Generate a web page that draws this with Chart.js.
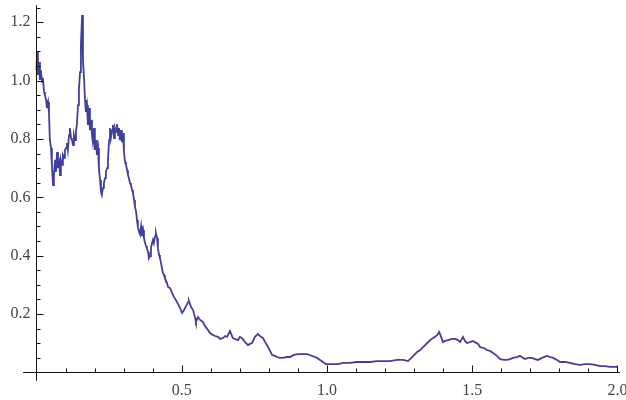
<!DOCTYPE html>
<html>
<head>
<meta charset="utf-8">
<script src="https://cdn.jsdelivr.net/npm/chart.js@4"></script>
<style>
  html, body { margin: 0; padding: 0; background: #fff; }
  #wrap { width: 626px; height: 400px; }
</style>
</head>
<body>
<div id="wrap"><canvas id="walk"></canvas></div>
<script>
// values
const xs = [
  0, 0.002, 0.005, 0.009, 0.012, 0.015, 0.019, 0.022, 0.026, 0.029,
  0.033, 0.036, 0.040, 0.043, 0.046, 0.050, 0.053, 0.057, 0.060, 0.064,
  0.067, 0.071, 0.074, 0.077, 0.081, 0.084, 0.088, 0.091, 0.095, 0.098,
  0.102, 0.105, 0.108, 0.112, 0.115, 0.119, 0.122, 0.126, 0.129, 0.133,
  0.136, 0.139, 0.143, 0.146, 0.150, 0.153, 0.157, 0.160, 0.164, 0.167,
  0.170, 0.174, 0.177, 0.181, 0.184, 0.188, 0.191, 0.194, 0.198, 0.201,
  0.205, 0.208, 0.212, 0.215, 0.219, 0.222, 0.225, 0.229, 0.232, 0.236,
  0.239, 0.243, 0.246, 0.250, 0.253, 0.256, 0.260, 0.263, 0.267, 0.270,
  0.274, 0.277, 0.281, 0.284, 0.287, 0.291, 0.294, 0.298, 0.301, 0.305,
  0.308, 0.312, 0.315, 0.318, 0.322, 0.325, 0.329, 0.332, 0.336, 0.339,
  0.343, 0.346, 0.349, 0.353, 0.356, 0.360, 0.363, 0.367, 0.370, 0.373,
  0.377, 0.380, 0.384, 0.387, 0.391, 0.394, 0.397, 0.401, 0.404, 0.408,
  0.411, 0.415, 0.418, 0.422, 0.425, 0.428, 0.432, 0.435, 0.439, 0.442,
  0.449, 0.453, 0.460, 0.467, 0.473, 0.480, 0.487, 0.494, 0.501, 0.508,
  0.515, 0.522, 0.525, 0.532, 0.539, 0.546, 0.549, 0.556, 0.563, 0.573,
  0.580, 0.590, 0.597, 0.608, 0.615, 0.625, 0.632, 0.642, 0.649, 0.656,
  0.666, 0.676, 0.683, 0.694, 0.700, 0.707, 0.718, 0.728, 0.735, 0.742,
  0.752, 0.762, 0.769, 0.780, 0.787, 0.793, 0.804, 0.811, 0.821, 0.828,
  0.838, 0.848, 0.862, 0.873, 0.886, 0.900, 0.914, 0.931, 0.941, 0.948,
  0.959, 0.966, 0.976, 0.986, 0.996, 1.003, 1.021, 1.038, 1.055, 1.079,
  1.103, 1.124, 1.148, 1.172, 1.193, 1.217, 1.241, 1.262, 1.279, 1.286,
  1.293, 1.303, 1.310, 1.321, 1.328, 1.338, 1.345, 1.355, 1.365, 1.372,
  1.379, 1.386, 1.393, 1.399, 1.406, 1.417, 1.430, 1.441, 1.451, 1.458,
  1.468, 1.475, 1.482, 1.492, 1.503, 1.509, 1.520, 1.527, 1.540, 1.551,
  1.561, 1.572, 1.585, 1.596, 1.609, 1.620, 1.630, 1.640, 1.654, 1.664,
  1.675, 1.682, 1.692, 1.706, 1.716, 1.726, 1.740, 1.757, 1.768, 1.778,
  1.792, 1.802, 1.819, 1.836, 1.854, 1.871, 1.888, 1.906, 1.923, 1.940,
  1.957, 1.974, 1.991, 2.0
];
const ys = [
  1.036, 1.098, 1.019, 1.063, 1.002, 1.036, 0.995, 1.009, 0.961, 0.950,
  0.933, 0.906, 0.926, 0.892, 0.796, 0.769, 0.711, 0.642, 0.676, 0.728,
  0.687, 0.755, 0.700, 0.735, 0.676, 0.728, 0.711, 0.745, 0.735, 0.762,
  0.769, 0.786, 0.762, 0.813, 0.837, 0.803, 0.796, 0.779, 0.813, 0.796,
  0.830, 0.848, 0.916, 0.967, 1.029, 1.122, 1.224, 1.070, 1.002, 0.933,
  0.892, 0.916, 0.848, 0.906, 0.830, 0.865, 0.813, 0.789, 0.837, 0.762,
  0.796, 0.745, 0.769, 0.693, 0.659, 0.618, 0.608, 0.632, 0.649, 0.666,
  0.687, 0.700, 0.728, 0.796, 0.837, 0.803, 0.830, 0.848, 0.803, 0.837,
  0.824, 0.851, 0.813, 0.837, 0.796, 0.830, 0.789, 0.820, 0.755, 0.721,
  0.711, 0.693, 0.676, 0.666, 0.649, 0.642, 0.625, 0.615, 0.591, 0.567,
  0.550, 0.522, 0.498, 0.481, 0.474, 0.502, 0.467, 0.488, 0.461, 0.447,
  0.433, 0.426, 0.413, 0.392, 0.399, 0.426, 0.440, 0.454, 0.443, 0.467,
  0.478, 0.461, 0.426, 0.402, 0.392, 0.378, 0.358, 0.341, 0.334, 0.324,
  0.307, 0.293, 0.289, 0.272, 0.259, 0.248, 0.235, 0.221, 0.204, 0.214,
  0.228, 0.241, 0.245, 0.224, 0.214, 0.187, 0.173, 0.190, 0.180, 0.173,
  0.159, 0.146, 0.135, 0.128, 0.125, 0.122, 0.115, 0.118, 0.125, 0.122,
  0.142, 0.118, 0.115, 0.111, 0.122, 0.118, 0.104, 0.094, 0.098, 0.101,
  0.122, 0.132, 0.125, 0.118, 0.104, 0.094, 0.074, 0.060, 0.057, 0.053,
  0.050, 0.050, 0.053, 0.053, 0.060, 0.063, 0.063, 0.063, 0.060, 0.057,
  0.053, 0.050, 0.043, 0.036, 0.029, 0.029, 0.029, 0.029, 0.033, 0.033,
  0.036, 0.036, 0.036, 0.039, 0.039, 0.039, 0.043, 0.043, 0.039, 0.046,
  0.053, 0.063, 0.070, 0.077, 0.084, 0.094, 0.101, 0.111, 0.118, 0.122,
  0.128, 0.139, 0.122, 0.104, 0.108, 0.111, 0.115, 0.115, 0.111, 0.104,
  0.122, 0.108, 0.101, 0.104, 0.108, 0.104, 0.098, 0.087, 0.084, 0.077,
  0.074, 0.067, 0.057, 0.046, 0.043, 0.043, 0.046, 0.050, 0.053, 0.057,
  0.050, 0.046, 0.050, 0.050, 0.046, 0.043, 0.050, 0.057, 0.053, 0.050,
  0.043, 0.036, 0.036, 0.033, 0.029, 0.026, 0.029, 0.029, 0.026, 0.022,
  0.022, 0.019, 0.019, 0.019
];
const xMajor = [0.5, 1.0, 1.5, 2.0];
const xMinor = [0.1, 0.2, 0.3, 0.4, 0.6, 0.7, 0.8, 0.9, 1.1, 1.2, 1.3, 1.4, 1.6, 1.7, 1.8, 1.9];
const yMajor = [0.2, 0.4, 0.6, 0.8, 1.0, 1.2];
const yMinor = [0.05, 0.1, 0.15, 0.25, 0.3, 0.35, 0.45, 0.5, 0.55, 0.65, 0.7, 0.75,
                0.85, 0.9, 0.95, 1.05, 1.1, 1.15, 1.25];

const points = xs.map((x, i) => ({ x: x, y: ys[i] }));

// Mathematica-like axes: lines through the origin, ticks pointing inward
const axesPlugin = {
  id: 'mmaAxes',
  afterDatasetsDraw(chart) {
    const ctx = chart.ctx;
    const sx = chart.scales.x;
    const sy = chart.scales.y;
    const x0 = Math.round(sx.getPixelForValue(0)) + 0.5;
    const y0 = Math.round(sy.getPixelForValue(0)) + 0.5;

    ctx.save();
    ctx.strokeStyle = '#111';
    ctx.lineWidth = 1;
    ctx.beginPath();
    ctx.moveTo(sx.getPixelForValue(-0.046), y0);
    ctx.lineTo(sx.getPixelForValue(2.008), y0);
    ctx.moveTo(x0, sy.getPixelForValue(1.258));
    ctx.lineTo(x0, sy.getPixelForValue(-0.028));
    ctx.stroke();

    ctx.beginPath();
    xMajor.forEach(v => {
      const p = Math.round(sx.getPixelForValue(v)) + 0.5;
      ctx.moveTo(p, y0); ctx.lineTo(p, y0 - 7);
    });
    xMinor.forEach(v => {
      const p = Math.round(sx.getPixelForValue(v)) + 0.5;
      ctx.moveTo(p, y0); ctx.lineTo(p, y0 - 4);
    });
    yMajor.forEach(v => {
      const p = Math.round(sy.getPixelForValue(v)) + 0.5;
      ctx.moveTo(x0, p); ctx.lineTo(x0 + 7, p);
    });
    yMinor.forEach(v => {
      const p = Math.round(sy.getPixelForValue(v)) + 0.5;
      ctx.moveTo(x0, p); ctx.lineTo(x0 + 4, p);
    });
    ctx.stroke();

    ctx.fillStyle = '#444';
    ctx.font = '16px "Liberation Serif", serif';
    ctx.textAlign = 'center';
    ctx.textBaseline = 'middle';
    xMajor.forEach(v => {
      ctx.fillText(v.toFixed(1), sx.getPixelForValue(v), y0 + 18);
    });
    ctx.textAlign = 'right';
    yMajor.forEach(v => {
      ctx.fillText(v.toFixed(1), x0 - 6, sy.getPixelForValue(v));
    });
    ctx.restore();
  }
};

new Chart(document.getElementById('walk'), {
  type: 'scatter',
  data: {
    datasets: [{
      data: points,
      showLine: true,
      borderColor: '#40409c',
      borderWidth: 1.8,
      pointRadius: 0,
      tension: 0
    }]
  },
  options: {
    responsive: true,
    maintainAspectRatio: false,
    animation: false,
    layout: { padding: 0 },
    plugins: {
      legend: { display: false },
      tooltip: { enabled: false }
    },
    scales: {
      x: { type: 'linear', display: false, min: -0.1256, max: 2.0293 },
      y: { type: 'linear', display: false, min: -0.0942, max: 1.2757 }
    }
  },
  plugins: [axesPlugin]
});
</script>
</body>
</html>
